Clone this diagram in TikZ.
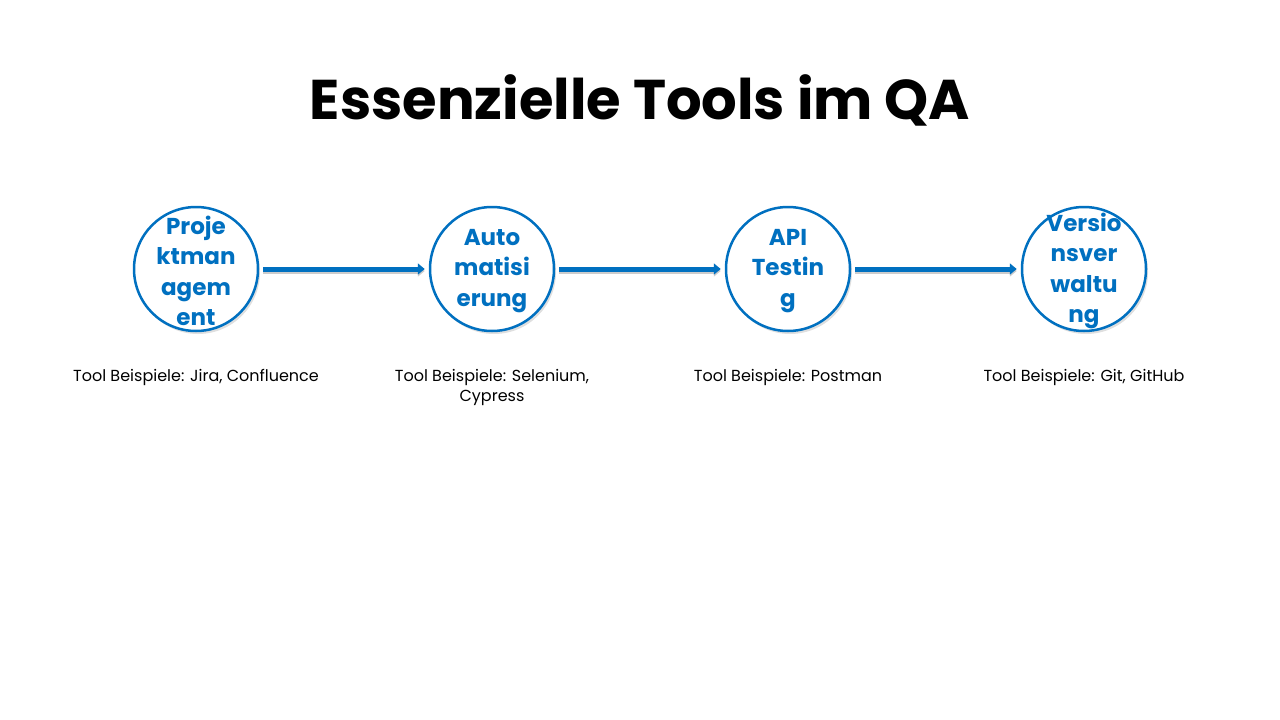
\documentclass[tikz,border=0pt]{standalone}
\usepackage{fontspec}
\setmainfont{Poppins}
\usetikzlibrary{shadows,arrows.meta}
\definecolor{qblue}{HTML}{0070C0}
\begin{document}
\begin{tikzpicture}[x=1pt,y=-1pt,
  stage/.style={circle,draw=qblue,line width=2.5pt,fill=white,minimum size=124pt,inner sep=0pt,
    drop shadow={shadow xshift=2pt,shadow yshift=-3pt,opacity=0.25}},
  stagetext/.style={align=center,text=qblue,font=\fontsize{23}{30.5}\selectfont\bfseries,inner sep=0pt},
  conn/.style={draw=qblue,line width=5pt,-{Triangle[length=7pt,width=11pt]},shorten <=4pt,shorten >=4pt,
    preaction={draw=black!20,line width=5pt,shorten <=4pt,shorten >=4pt,transform canvas={yshift=-2pt}}},
  lab/.style={align=center,font=\fontsize{16}{20}\selectfont,text=black}]
\useasboundingbox (0,0) rectangle (1280,720);
\node[font=\fontsize{56}{64}\selectfont\bfseries] (title) at (640,100) {Essenzielle Tools im QA};
\node[stage] (a) at (196,269) {};
\node[stage] (b) at (492,269) {};
\node[stage] (c) at (788,269) {};
\node[stage] (d) at (1084,269) {};
\node[stagetext] (ta) at (196,271) {Proje\\ktman\\agem\\ent};
\node[stagetext] (tb) at (492,271) {Auto\\matisi\\erung};
\node[stagetext] (tc) at (788,271) {API\\Testin\\g};
\node[stagetext] (td) at (1084,271) {Versio\\nsver\\waltu\\ng};
\draw[conn] (a) -- (b);
\draw[conn] (b) -- (c);
\draw[conn] (c) -- (d);
\node[lab,anchor=north] (la) at (196,366) {Tool Beispiele: Jira, Confluence};
\node[lab,anchor=north] (lb) at (492,366) {Tool Beispiele: Selenium,\\Cypress};
\node[lab,anchor=north] (lc) at (788,366) {Tool Beispiele: Postman};
\node[lab,anchor=north] (ld) at (1084,366) {Tool Beispiele: Git, GitHub};
\end{tikzpicture}
\end{document}
